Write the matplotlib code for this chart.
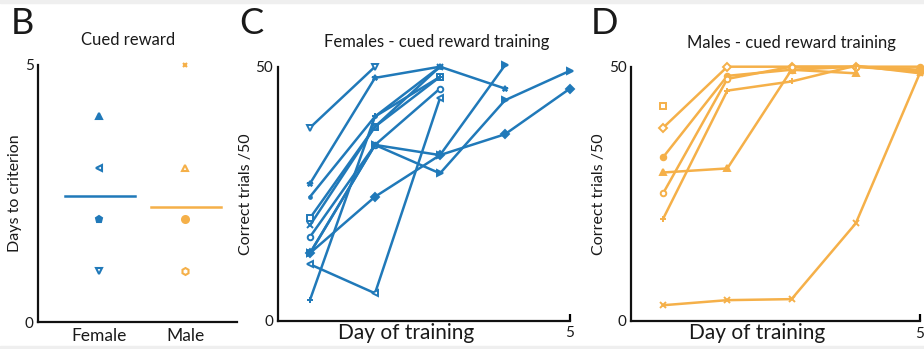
import numpy as np
import matplotlib.pyplot as plt
from matplotlib.patches import Rectangle

plt.rcParams['font.family'] = ['Lato', 'DejaVu Sans']

blue = '#2079b9'
orange = '#f5b049'
txt = '#1a1a1a'

# Panel B - days to criterion
groups = ['Female', 'Male']
female_days = [4, 3, 2, 1]
female_marks = ['^', '<', 'p', 'v']
female_open = [False, True, False, True]
male_days = [5, 3, 2, 1]
male_marks = ['x', '^', 'o', 'h']
male_open = [False, True, False, True]
female_mean = 2.45
male_mean = 2.24

# Panel C - females, correct trials per day (nan = not trained that day)
nan = np.nan
days = [1, 2, 3, 4, 5]
fem_series = [
    [38.0, 50.0, nan, nan, nan],
    [27.0, 47.8, 50.0, 45.7, nan],
    [24.4, 40.2, 50.0, nan, nan],
    [20.2, 38.2, 48.0, nan, nan],
    [18.8, 38.2, 50.0, nan, nan],
    [16.5, 34.6, 45.7, nan, nan],
    [13.3, 34.6, 32.6, 50.3, nan],
    [13.3, 24.4, 32.6, 36.7, 45.7],
    [13.3, 34.6, 29.0, 43.4, 49.2],
    [11.1, 5.4, 43.8, nan, nan],
    [4.1, 40.2, 48.0, nan, nan],
]
fem_marks = ['v', '*', '.', 's', 'x', 'o', '>', 'D', '>', '<', '+']
fem_open = [True, False, False, True, False, True, False, False, False, True, False]

# Panel D - males
male_series = [
    [42.2, nan, nan, nan, nan],
    [38.0, 50.0, 50.0, 50.0, 49.4],
    [32.2, 48.2, 49.4, 50.0, 50.0],
    [29.2, 30.0, 49.4, 48.7, nan],
    [25.1, 47.6, 50.0, 50.0, 49.0],
    [20.1, 45.3, 47.1, 50.2, 48.7],
    [3.1, 4.1, 4.3, 19.2, 48.8],
]
male_mk = ['s', 'D', 'o', '^', 'o', '+', 'x']
male_op = [True, True, False, False, True, False, False]

W, H = 924, 349
fig = plt.figure(figsize=(W / 100, H / 100), dpi=100)
fig.patches.append(Rectangle((0, 0), 1, 3.5 / H, transform=fig.transFigure, color='#efefef', zorder=-1))
fig.patches.append(Rectangle((0, 1 - 3 / H), 1, 3 / H, transform=fig.transFigure, color='#efefef', zorder=-1))


def px_axes(x0, y0, x1, y1):
    return fig.add_axes([x0 / W, 1 - y1 / H, (x1 - x0) / W, (y1 - y0) / H])


def ftext(x, y, s, **kw):
    fig.text(x / W, 1 - y / H, s, color=txt, ha='center', va='center', **kw)


def style(ax):
    for s in ['top', 'right']:
        ax.spines[s].set_visible(False)
    for s in ['left', 'bottom']:
        ax.spines[s].set_linewidth(1.6)
        ax.spines[s].set_color('#111111')
    ax.tick_params(axis='y', length=0, pad=3, labelsize=11, labelcolor=txt)


# ---- B
axB = px_axes(38, 65, 237, 322)
style(axB)
for v, m, o in zip(female_days, female_marks, female_open):
    axB.plot(1, v, marker=m, color=blue, ms=5, mew=1.5, mfc='white' if o else blue, clip_on=False)
for v, m, o in zip(male_days, male_marks, male_open):
    axB.plot(2, v, marker=m, color=orange, ms=5 if m != 'x' else 3.5, mew=1.5,
             mfc='white' if o else orange, clip_on=False)
axB.plot([0.6, 1.42], [female_mean, female_mean], color=blue, lw=1.8)
axB.plot([1.6, 2.42], [male_mean, male_mean], color=orange, lw=1.8)
axB.set_xlim(0.29, 2.6)
axB.set_ylim(0, 5)
axB.set_yticks([0, 5])
axB.set_xticks([1, 2])
axB.set_xticklabels(groups)
axB.tick_params(axis='x', length=0, pad=4, labelsize=12.5, labelcolor=txt)
axB.set_ylabel('Days to criterion', fontsize=11.5, color=txt, labelpad=2)
ftext(128, 40, 'Cued reward', fontsize=12)
ftext(22, 23, 'B', fontsize=26)


def trials_panel(ax, series, marks, opens, color):
    style(ax)
    for vals, m, o in zip(series, marks, opens):
        ax.plot(days, vals, color=color, lw=1.8, marker=m, ms=4, mew=1.4,
                mfc='white' if o else color, clip_on=False)
    ax.set_xlim(0.5, 5)
    ax.set_ylim(0, 50)
    ax.set_yticks([0, 50])
    ax.set_xticks([5])
    ax.tick_params(axis='x', direction='in', length=5, width=1.6, pad=4,
                   labelsize=11, labelcolor=txt)
    ax.set_ylabel('Correct trials /50', fontsize=11.5, color=txt, labelpad=2)


# ---- C
axC = px_axes(277.5, 66.7, 570, 320.7)
trials_panel(axC, fem_series, fem_marks, fem_open, blue)
ftext(437, 42, 'Females - cued reward training', fontsize=12)
ftext(406, 333, 'Day of training', fontsize=15)
ftext(251, 23, 'C', fontsize=26)

# ---- D
axD = px_axes(631, 66.7, 920, 321)
trials_panel(axD, male_series, male_mk, male_op, orange)
ftext(791, 43, 'Males - cued reward training', fontsize=12)
ftext(757, 333, 'Day of training', fontsize=15)
ftext(604, 23, 'D', fontsize=26)

fig.savefig('out.png', dpi=100)
